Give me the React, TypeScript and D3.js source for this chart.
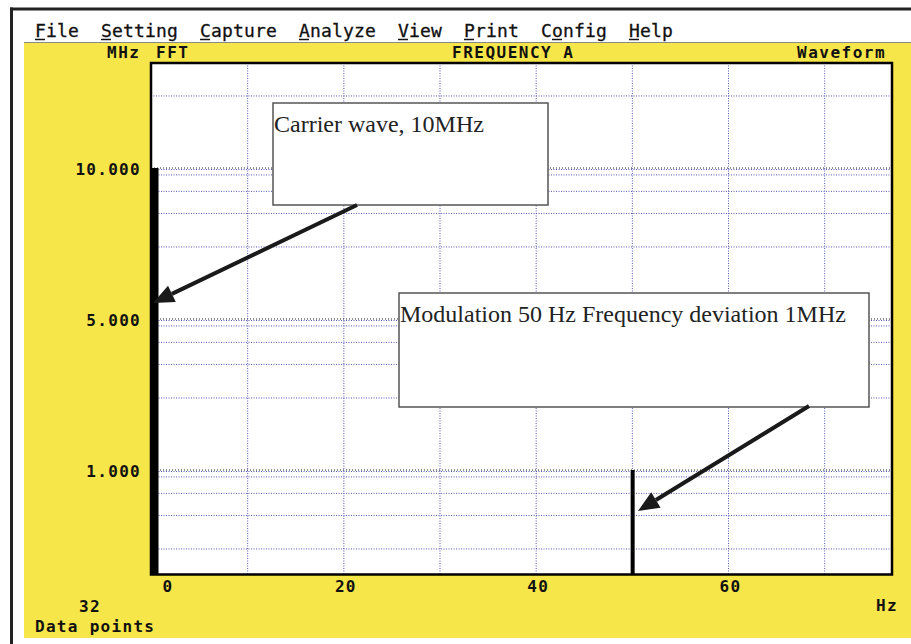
import React from 'react';
import * as d3 from 'd3';

// ---- data ----
const menuItems = ['File', 'Setting', 'Capture', 'Analyze', 'View', 'Print', 'Config', 'Help'];
const menuHotkeyIndex = [0, 0, 0, 0, 0, 0, 1, 0];
const freqTickValues = [0, 20, 40, 60];
const freqGridValues = [10, 20, 30, 40, 50, 60, 70];
const levelTickValues = [10, 5, 1];
const levelTickLabels = ['10.000', '5.000', '1.000'];
const minorMultipliers = [0.9, 0.7, 0.5, 0.3];
const spectrumFreqHz = [0, 50];
const spectrumLevelMHz = [10, 1];
const annotationTexts = ['Carrier wave, 10MHz', 'Modulation 50 Hz Frequency deviation 1MHz'];

// ---- layout ----
const W = 911;
const H = 644;
const plot = { left: 151, top: 63, right: 892, bottom: 574.5 };
const band = 151;
const mono = "'DejaVu Sans Mono', monospace";
const serif = "'Liberation Serif', 'Times New Roman', serif";
const yellow = '#f6e64a';
const gridBlue = '#3b3bab';

const annBoxes = [
  { x: 273, y: 103, w: 275, h: 102, from: [357, 205], tip: [153, 303] },
  { x: 399, y: 293, w: 470, h: 114, from: [809, 406], tip: [638, 511] },
];

function arrowHead(from: number[], tip: number[], len = 21, half = 9) {
  const dx = tip[0] - from[0];
  const dy = tip[1] - from[1];
  const L = Math.hypot(dx, dy);
  const ux = dx / L, uy = dy / L;
  const bx = tip[0] - ux * len, by = tip[1] - uy * len;
  const px = -uy, py = ux;
  return {
    base: [bx, by],
    pts: `${tip[0]},${tip[1]} ${bx + px * half},${by + py * half} ${bx - px * half},${by - py * half}`,
  };
}

export default function App() {
  const x = d3.scaleLinear().domain([0, 77]).range([plot.left + 0.5, plot.right]);
  const y = d3
    .scaleLinear()
    .domain([1, 5, 10])
    .range([470, 470 - band, 470 - 2 * band]);

  // log-style minor grid within each labelled band
  const bases = [y(levelTickValues[0]) - band, ...levelTickValues.map((v) => y(v))];
  const minorLines: number[] = [];
  bases.forEach((b) => {
    minorMultipliers.forEach((m) => {
      const yy = b - Math.log10(m) * band;
      if (yy > plot.top + 2 && yy < plot.bottom - 2) minorLines.push(yy);
    });
  });
  const majorLines = levelTickValues.map((v) => y(v));

  // menu positions on an 11px character grid
  const charW = 11;
  let col = 0;
  const menuPos = menuItems.map((m) => {
    const p = 35 + col * charW;
    col += m.length + 2;
    return p;
  });

  const bars = spectrumFreqHz.map((f, i) => ({ f, v: spectrumLevelMHz[i] }));

  return (
    <svg
      width={W}
      height={H}
      style={{ position: 'absolute', left: 0, top: 0, background: '#fff' }}
    >
      {/* outer frame */}
      <rect x={0} y={0} width={W} height={H} fill="#fff" />
      <rect x={10} y={7.5} width={W - 10} height={3} fill="#222" />
      <rect x={10} y={7.5} width={3} height={H - 7.5} fill="#222" />
      {/* yellow panel */}
      <rect x={24} y={43} width={W - 24} height={595} fill={yellow} />
      <line x1={24} x2={W} y1={42.5} y2={42.5} stroke="#888" strokeWidth={1} />

      {/* menu */}
      {menuItems.map((m, i) => (
        <g key={m}>
          <text
            x={menuPos[i]}
            y={37}
            fontFamily={mono}
            fontSize={18}
            letterSpacing={0.16}
            fill="#111"
            stroke="#111"
            strokeWidth={0.3}
          >
            {m}
          </text>
          <line
            x1={menuPos[i] + menuHotkeyIndex[i] * charW}
            x2={menuPos[i] + menuHotkeyIndex[i] * charW + 10}
            y1={39.5}
            y2={39.5}
            stroke="#111"
            strokeWidth={1.5}
          />
        </g>
      ))}

      {/* header */}
      <g fontFamily={mono} fontSize={16} fontWeight="bold" letterSpacing={1.5} fill="#111">
        <text x={107} y={58}>MHz</text>
        <text x={156} y={58}>FFT</text>
        <text x={452} y={58}>FREQUENCY A</text>
        <text x={797} y={58}>Waveform</text>
      </g>

      {/* plot area */}
      <rect
        x={plot.left}
        y={plot.top}
        width={plot.right - plot.left}
        height={plot.bottom - plot.top}
        fill="#fff"
      />

      {/* grid */}
      {minorLines.map((yy, i) => (
        <line
          key={'mn' + i}
          x1={plot.left}
          x2={plot.right}
          y1={yy}
          y2={yy}
          stroke={gridBlue}
          strokeWidth={1}
          strokeDasharray="1,1.5"
          opacity={0.85}
        />
      ))}
      {majorLines.map((yy, i) => (
        <g key={'mj' + i}>
          <line
            x1={plot.left}
            x2={plot.right}
            y1={yy}
            y2={yy}
            stroke="#222"
            strokeWidth={1}
            strokeDasharray="1,2"
          />
          <line
            x1={plot.left}
            x2={plot.right}
            y1={yy + 1.5}
            y2={yy + 1.5}
            stroke={gridBlue}
            strokeWidth={1}
            strokeDasharray="1,1.5"
            opacity={0.85}
          />
        </g>
      ))}
      {freqGridValues.map((f) => (
        <line
          key={'vg' + f}
          x1={x(f)}
          x2={x(f)}
          y1={plot.top}
          y2={plot.bottom}
          stroke={gridBlue}
          strokeWidth={1}
          strokeDasharray="1,1.5"
          opacity={0.85}
        />
      ))}

      {/* spectrum bars */}
      {bars.map((b, i) => {
        const w = i === 0 ? 8 : 4;
        const cx = i === 0 ? x(b.f) + 3 : x(b.f) + 0.3;
        return (
          <rect
            key={'bar' + i}
            x={cx - w / 2}
            y={y(b.v)}
            width={w}
            height={plot.bottom - y(b.v)}
            fill="#000"
          />
        );
      })}

      {/* frame */}
      <rect
        x={plot.left}
        y={plot.top}
        width={plot.right - plot.left}
        height={plot.bottom - plot.top}
        fill="none"
        stroke="#000"
        strokeWidth={2.5}
      />

      {/* axis labels */}
      <g fontFamily={mono} fontSize={16} fontWeight="bold" letterSpacing={1.3} fill="#111">
        {levelTickValues.map((v, i) => (
          <text key={'yl' + v} x={141} y={y(v) + 7} textAnchor="end">
            {levelTickLabels[i]}
          </text>
        ))}
        {freqTickValues.map((f) => (
          <text
            key={'xl' + f}
            x={Math.max(x(f) + 2, plot.left + 17)}
            y={592}
            textAnchor="middle"
          >
            {String(f)}
          </text>
        ))}
        <text x={876} y={611}>Hz</text>
        <text x={79} y={612}>32</text>
        <text x={35} y={632}>Data points</text>
      </g>

      {/* annotations */}
      {annBoxes.map((a, i) => {
        const h = arrowHead(a.from, a.tip);
        return (
          <g key={'ann' + i}>
            <rect
              x={a.x}
              y={a.y}
              width={a.w}
              height={a.h}
              fill="#fff"
              stroke="#555"
              strokeWidth={1.5}
            />
            <text x={a.x + 1} y={a.y + 29} fontFamily={serif} fontSize={24} fill="#222">
              {annotationTexts[i]}
            </text>
            <line
              x1={a.from[0]}
              y1={a.from[1]}
              x2={h.base[0]}
              y2={h.base[1]}
              stroke="#1a1a1a"
              strokeWidth={4}
            />
            <polygon points={h.pts} fill="#1a1a1a" />
          </g>
        );
      })}
    </svg>
  );
}
